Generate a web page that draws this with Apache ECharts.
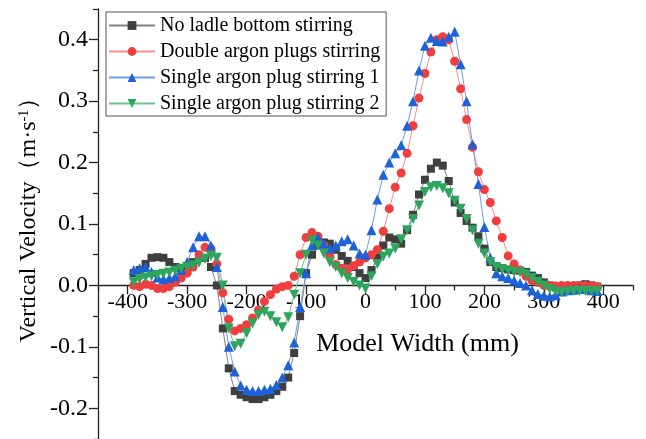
<!DOCTYPE html>
<html>
<head>
<meta charset="utf-8">
<script src="https://cdn.jsdelivr.net/npm/echarts@6/dist/echarts.min.js"></script>
<style>
  html, body { margin: 0; padding: 0; background: #fff; }
  #chart { width: 646px; height: 439px; }
</style>
</head>
<body>
<div id="chart"></div>
<script>
// Model width positions (mm)
const widthMm = [
  -390, -380, -370, -360, -350, -340, -330, -320, -310, -300,
  -290, -280, -270, -260, -250, -240, -230, -220, -210, -200,
  -190, -180, -170, -160, -150, -140, -130, -120, -110, -100,
  -90, -80, -70, -60, -50, -40, -30, -20, -10, 0,
  10, 20, 30, 40, 50, 60, 70, 80, 90, 100,
  110, 120, 130, 140, 150, 160, 170, 180, 190, 200,
  210, 220, 230, 240, 250, 260, 270, 280, 290, 300,
  310, 320, 330, 340, 350, 360, 370, 380, 390
];

// Vertical velocity (m/s) for each stirring case
const noStirring = [
  0.020, 0.025, 0.035, 0.045, 0.046, 0.045, 0.038, 0.030, 0.028, 0.032,
  0.038, 0.045, 0.045, 0.030, 0.000, -0.070, -0.135, -0.172, -0.178, -0.182,
  -0.185, -0.185, -0.182, -0.178, -0.172, -0.165, -0.150, -0.110, -0.050, 0.020,
  0.050, 0.065, 0.070, 0.068, 0.058, 0.048, 0.040, 0.030, 0.020, 0.012,
  0.025, 0.045, 0.065, 0.078, 0.075, 0.068, 0.090, 0.115, 0.148, 0.172,
  0.190, 0.200, 0.195, 0.170, 0.135, 0.118, 0.105, 0.094, 0.080, 0.060,
  0.038, 0.030, 0.028, 0.026, 0.025, 0.024, 0.022, 0.016, 0.012, 0.005,
  0.000, -0.003, -0.004, -0.003, -0.002, 0.000, 0.002, 0.000, -0.002
];
const doublePlugs = [
  0.000, -0.002, 0.002, 0.000, -0.005, -0.005, -0.002, 0.005, 0.012, 0.020,
  0.030, 0.050, 0.062, 0.060, 0.035, -0.012, -0.055, -0.074, -0.070, -0.064,
  -0.053, -0.040, -0.026, -0.015, -0.006, -0.002, 0.000, 0.015, 0.050, 0.078,
  0.086, 0.080, 0.065, 0.048, 0.034, 0.028, 0.026, 0.032, 0.038, 0.045,
  0.050, 0.058, 0.088, 0.125, 0.160, 0.183, 0.215, 0.260, 0.305, 0.345,
  0.380, 0.400, 0.405, 0.400, 0.365, 0.320, 0.270, 0.225, 0.185, 0.156,
  0.135, 0.105, 0.078, 0.048, 0.035, 0.025, 0.015, 0.008, 0.005, 0.000,
  -0.001, -0.001, 0.000, 0.000, 0.000, 0.000, 0.000, -0.001, -0.002
];
const singlePlug1 = [
  0.025, 0.028, 0.030, 0.022, 0.013, 0.010, 0.012, 0.015, 0.025, 0.038,
  0.062, 0.080, 0.080, 0.065, 0.030, -0.035, -0.100, -0.140, -0.163, -0.170,
  -0.172, -0.172, -0.170, -0.168, -0.162, -0.150, -0.130, -0.093, -0.035, 0.020,
  0.065, 0.078, 0.068, 0.060, 0.065, 0.072, 0.075, 0.065, 0.052, 0.050,
  0.090, 0.140, 0.180, 0.200, 0.215, 0.228, 0.260, 0.300, 0.350, 0.390,
  0.403, 0.398, 0.397, 0.405, 0.413, 0.360, 0.300, 0.230, 0.165, 0.095,
  0.045, 0.020, 0.015, 0.012, 0.008, 0.004, 0.000, -0.008, -0.014, -0.017,
  -0.018, -0.016, -0.010, -0.008, -0.007, -0.006, -0.006, -0.008, -0.009
];
const singlePlug2 = [
  0.005, 0.010, 0.013, 0.015, 0.017, 0.019, 0.021, 0.024, 0.027, 0.030,
  0.033, 0.037, 0.043, 0.048, 0.045, 0.000, -0.070, -0.099, -0.095, -0.078,
  -0.062, -0.048, -0.043, -0.050, -0.060, -0.068, -0.052, -0.015, 0.020, 0.050,
  0.073, 0.065, 0.052, 0.038, 0.030, 0.020, 0.012, 0.006, 0.000, -0.005,
  0.015, 0.035, 0.047, 0.052, 0.060, 0.075, 0.090, 0.108, 0.130, 0.152,
  0.160, 0.162, 0.158, 0.150, 0.138, 0.125, 0.108, 0.090, 0.068, 0.052,
  0.038, 0.030, 0.026, 0.024, 0.022, 0.021, 0.018, 0.012, 0.006, 0.000,
  -0.006, -0.010, -0.011, -0.010, -0.009, -0.009, -0.009, -0.009, -0.009
];

// Axis ranges and ticks
const xRange = [-450, 450];
const yRange = [-0.25, 0.45];
const xMajorTicks = [-400, -300, -200, -100, 0, 100, 200, 300, 400];
const xMinorTicks = [-450, -350, -250, -150, -50, 50, 150, 250, 350, 450];
const yMajorTicks = [-0.2, -0.1, 0.0, 0.1, 0.2, 0.3, 0.4];
const yMinorTicks = [-0.25, -0.15, -0.05, 0.05, 0.15, 0.25, 0.35, 0.45];

const seriesNames = [
  'No ladle bottom stirring',
  'Double argon plugs stirring',
  'Single argon plug stirring 1',
  'Single argon plug stirring 2'
];

const FONT = 'Liberation Serif';
const AXIS_COLOR = '#222';

function pairs(ys) {
  return widthMm.map((x, i) => [x, ys[i]]);
}

function lineSeries(name, ys, symbol, size, markColor, lineColor, rotate) {
  return {
    name: name,
    type: 'line',
    xAxisIndex: 0,
    yAxisIndex: 0,
    data: pairs(ys),
    symbol: symbol,
    symbolSize: size,
    symbolRotate: rotate || 0,
    showAllSymbol: true,
    animation: false,
    itemStyle: { color: markColor },
    lineStyle: { color: lineColor, width: 1 }
  };
}

const chart = echarts.init(document.getElementById('chart'), null, { renderer: 'canvas' });

chart.setOption({
  backgroundColor: '#fff',
  animation: false,
  grid: { left: 98, right: 13, top: 9, bottom: 0, containLabel: false, outerBoundsMode: 'none' },
  legend: {
    orient: 'vertical',
    left: 106,
    top: 12,
    padding: [3, 6, 2, 2],
    itemGap: 5,
    itemWidth: 46,
    itemHeight: 11,
    borderColor: '#555',
    borderWidth: 1,
    textStyle: { fontFamily: FONT, fontSize: 20, color: '#000', lineHeight: 21 },
    data: seriesNames
  },
  xAxis: [
    {
      type: 'value',
      min: xRange[0],
      max: xRange[1],
      position: 'bottom',
      offset: 0,
      axisLine: { onZero: false, lineStyle: { color: AXIS_COLOR, width: 1.3 } },
      axisTick: { show: true, inside: false, length: 9, customValues: xMajorTicks,
                  lineStyle: { color: AXIS_COLOR, width: 1.3 } },
      axisLabel: { customValues: xMajorTicks, margin: 6, fontFamily: FONT, fontSize: 22, color: '#000' },
      splitLine: { show: false },
      name: 'Model Width (mm)',
      nameLocation: 'middle',
      nameGap: 46,
      nameMoveOverlap: false,
      nameTextStyle: { fontFamily: FONT, fontSize: 26, color: '#000', padding: [0, 0, 0, 104] }
    },
    {
      type: 'value',
      min: xRange[0],
      max: xRange[1],
      position: 'bottom',
      offset: 0,
      axisLine: { show: false, onZero: false },
      axisTick: { show: true, inside: false, length: 5, customValues: xMinorTicks,
                  lineStyle: { color: AXIS_COLOR, width: 1.3 } },
      axisLabel: { show: false },
      splitLine: { show: false }
    }
  ],
  yAxis: [
    {
      type: 'value',
      min: yRange[0],
      max: yRange[1],
      position: 'left',
      axisLine: { show: true, onZero: false, lineStyle: { color: AXIS_COLOR, width: 1.3 } },
      axisTick: { show: true, inside: false, length: 9, customValues: yMajorTicks,
                  lineStyle: { color: AXIS_COLOR, width: 1.3 } },
      axisLabel: { customValues: yMajorTicks, margin: 10, fontFamily: FONT, fontSize: 24, color: '#000',
                   formatter: v => v.toFixed(1) },
      splitLine: { show: false },
      name: 'Vertical Velocity（m·s{sup|-1}）',
      nameLocation: 'middle',
      nameGap: 57,
      nameMoveOverlap: false,
      nameTextStyle: {
        fontFamily: FONT, fontSize: 24, color: '#000', padding: [0, 0, 0, 20],
        rich: { sup: { fontFamily: FONT, fontSize: 14, color: '#000', verticalAlign: 'top', padding: [0, 0, 9, 0] } }
      }
    },
    {
      type: 'value',
      min: yRange[0],
      max: yRange[1],
      position: 'left',
      axisLine: { show: false, onZero: false },
      axisTick: { show: true, inside: false, length: 5, customValues: yMinorTicks,
                  lineStyle: { color: AXIS_COLOR, width: 1.3 } },
      axisLabel: { show: false },
      splitLine: { show: false }
    }
  ],
  series: [
    lineSeries(seriesNames[0], noStirring, 'rect', 8, '#3f3f3f', '#808080'),
    lineSeries(seriesNames[1], doublePlugs, 'circle', 9, '#f03e3e', '#ff8c8c'),
    lineSeries(seriesNames[2], singlePlug1, 'triangle', 10, '#1d62d8', '#6d9de8'),
    lineSeries(seriesNames[3], singlePlug2, 'triangle', 10, '#2ea55c', '#6cc68e', 180)
  ]
});

// Lift both x axes from the grid's bottom edge onto the y = 0 line
const zeroPx = chart.convertToPixel({ yAxisIndex: 0 }, 0);
const bottomPx = chart.convertToPixel({ yAxisIndex: 0 }, yRange[0]);
const shift = zeroPx - bottomPx;
chart.setOption({ xAxis: [{ offset: shift }, { offset: shift }] });
</script>
</body>
</html>
